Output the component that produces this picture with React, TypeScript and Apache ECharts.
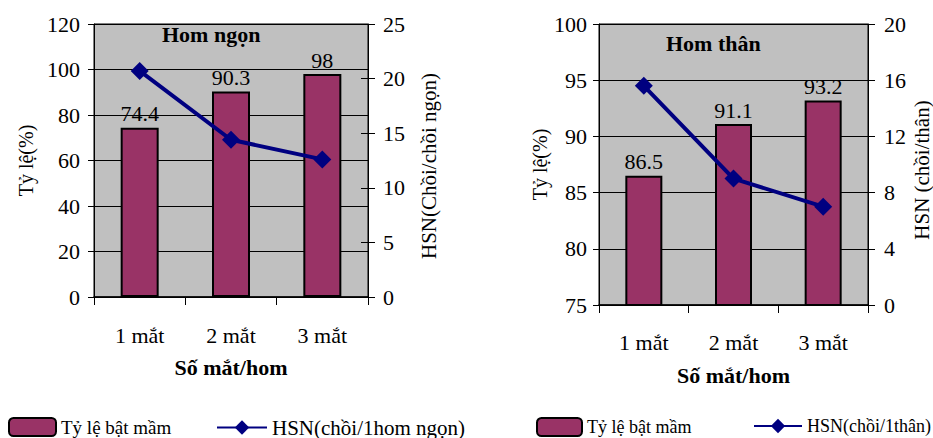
import React, { useEffect, useRef } from "react";
import * as echarts from "echarts";

const categories = ["1 mắt", "2 mắt", "3 mắt"];
const ngonRate = [74.4, 90.3, 98];
const ngonHSN = [20.7, 14.4, 12.6];
const thanRate = [86.5, 91.1, 93.2];
const thanHSN = [15.6, 9.0, 7.0];

const barName = "Tỷ lệ bật mầm";
const lineName1 = "HSN(chồi/1hom ngọn)";
const lineName2 = "HSN(chồi/1thân)";

const FONT = "Liberation Serif";

export default function App() {
  const ref = useRef<HTMLDivElement>(null);
  useEffect(() => {
    if (!ref.current) return;
    const chart = echarts.init(ref.current, undefined, { renderer: "svg" });
    const txt = { fontFamily: FONT, color: "#000", fontSize: 22 };
    const mkX = (gridIndex: number, labelMargin: number) => ({
      type: "category",
      gridIndex,
      data: categories,
      boundaryGap: true,
      axisLine: { show: true, lineStyle: { color: "#000", width: 1.5 } },
      axisTick: { show: true, length: 8, lineStyle: { color: "#000" } },
      axisLabel: { ...txt, margin: labelMargin },
      name: "Số mắt/hom",
      nameLocation: "middle",
      nameGap: 59,
      nameTextStyle: { ...txt, fontWeight: "bold", fontSize: 22 },
    });
    const mkYLeft = (gridIndex: number, min: number, max: number, interval: number, gap: number, margin: number) => ({
      type: "value",
      gridIndex,
      position: "left",
      min,
      max,
      interval,
      axisLine: { show: true, lineStyle: { color: "#000", width: 1 } },
      axisTick: { show: true, length: 6, lineStyle: { color: "#000" } },
      axisLabel: { ...txt, margin },
      splitLine: { show: true, lineStyle: { color: "#000", width: 1 } },
      name: "Tỷ lệ(%)",
      nameLocation: "middle",
      nameGap: gap,
      nameTextStyle: { ...txt, fontSize: 20 },
    });
    const mkYRight = (gridIndex: number, max: number, interval: number, name: string, gap: number, margin: number) => ({
      type: "value",
      gridIndex,
      position: "right",
      min: 0,
      max,
      interval,
      axisLine: { show: true, lineStyle: { color: "#000", width: 1 } },
      axisTick: { show: true, length: 7, lineStyle: { color: "#000" } },
      axisLabel: { ...txt, margin },
      splitLine: { show: false },
      name,
      nameLocation: "middle",
      nameGap: gap,
      nameTextStyle: { ...txt, fontSize: 21, padding: [0, 11, 0, 0] },
    });
    const mkYInside = (gridIndex: number, max: number, interval: number) => ({
      type: "value",
      gridIndex,
      position: "right",
      min: 0,
      max,
      interval,
      axisLine: { show: false },
      axisTick: { show: true, inside: true, length: 7, lineStyle: { color: "#000" } },
      axisLabel: { show: false },
      splitLine: { show: false },
    });
    const barSeries = (xi: number, yi: number, data: number[], w: number) => ({
      type: "bar",
      name: barName,
      xAxisIndex: xi,
      yAxisIndex: yi,
      data,
      barWidth: w,
      itemStyle: { color: "#993366", borderColor: "#000", borderWidth: 2 },
      label: { show: true, position: "top", distance: 3, ...txt },
    });
    const lineSeries = (xi: number, yi: number, data: number[], name: string) => ({
      type: "line",
      name,
      xAxisIndex: xi,
      yAxisIndex: yi,
      data,
      symbol: "diamond",
      symbolSize: 18,
      lineStyle: { color: "#000080", width: 4 },
      itemStyle: { color: "#000080" },
      z: 5,
    });
    const legendBase = {
      top: 417,
      padding: 0,
      itemHeight: 18,
      selectedMode: false,
    };
    const lt = (fontSize: number) => ({ fontFamily: FONT, color: "#000", fontSize });
    chart.setOption({
      animation: false,
      backgroundColor: "#fff",
      title: [
        { text: "Hom ngọn", left: 162, top: 23, padding: 0, textStyle: { ...txt, fontWeight: "bold" } },
        { text: "Hom thân", left: 666, top: 32, padding: 0, textStyle: { ...txt, fontWeight: "bold" } },
      ],
      grid: [
        { left: 94, top: 24, width: 274, height: 273, show: true, backgroundColor: "#C0C0C0", borderColor: "#000", borderWidth: 1 },
        { left: 599, top: 24, width: 272, height: 281, show: true, backgroundColor: "#C0C0C0", borderColor: "#000", borderWidth: 1 },
      ],
      xAxis: [mkX(0, 27), mkX(1, 26)],
      yAxis: [
        mkYLeft(0, 0, 120, 20, 58, 14),
        mkYRight(0, 25, 5, "HSN(Chồi/chồi ngọn)", 50, 15),
        mkYInside(0, 25, 5),
        mkYLeft(1, 75, 100, 5, 49, 12),
        mkYRight(1, 20, 4, "HSN (chồi/thân)", 43, 16),
        mkYInside(1, 20, 4),
      ],
      legend: [
        { ...legendBase, left: 8, itemWidth: 47, data: [barName], textStyle: lt(19) },
        { ...legendBase, left: 216, itemWidth: 50, data: [lineName1], textStyle: lt(21) },
        { ...legendBase, left: 536, itemWidth: 45, data: [barName], textStyle: lt(18) },
        { ...legendBase, left: 753, itemWidth: 48, data: [lineName2], textStyle: lt(18) },
      ],
      series: [
        barSeries(0, 0, ngonRate, 38),
        lineSeries(0, 1, ngonHSN, lineName1),
        barSeries(1, 3, thanRate, 37),
        lineSeries(1, 4, thanHSN, lineName2),
      ],
    });
    return () => chart.dispose();
  }, []);
  return <div ref={ref} style={{ position: "fixed", left: 0, top: 0, width: 933, height: 438 }} />;
}
